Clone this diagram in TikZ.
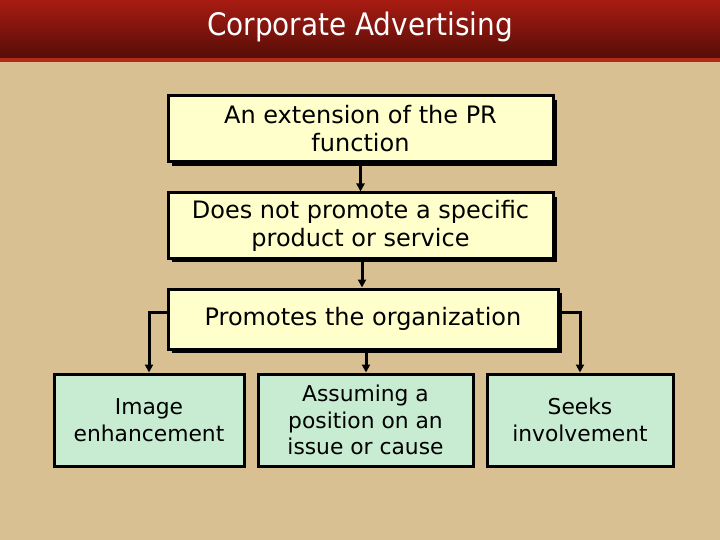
\documentclass[tikz,border=0pt]{standalone}
\usepackage{fontspec}
\setmainfont{DejaVu Sans}
\newfontfamily\titlefont{DejaVu Sans Condensed}
\usetikzlibrary{arrows.meta}
\definecolor{bgtan}{HTML}{D8C092}
\definecolor{barTop}{HTML}{A81C12}
\definecolor{barBot}{HTML}{560D08}
\definecolor{stripe}{HTML}{B42A18}
\definecolor{yel}{HTML}{FFFFCC}
\definecolor{grn}{HTML}{C8ECD2}
\tikzset{
  ybox/.style={draw=black, line width=3pt, fill=yel, align=center, font=\fontsize{24}{28}\selectfont, inner sep=0pt},
  gbox/.style={draw=black, line width=3pt, fill=grn, minimum height=92pt, align=center, font=\fontsize{21.8}{26.5}\selectfont, inner sep=0pt},
  shad/.style={fill=black},
  conn/.style={line width=3pt, -{Triangle[length=8pt,width=8pt]}},
}
\begin{document}
\begin{tikzpicture}[x=1pt,y=-1pt]
\useasboundingbox (0,0) rectangle (720,540);
\fill[bgtan] (0,0) rectangle (720,540);
\shade[top color=barTop, bottom color=barBot] (0,0) rectangle (720,58);
\fill[stripe] (0,58) rectangle (720,62);
\node[text=white, font=\titlefont\fontsize{31}{36}\selectfont] (title) at (360,27) {Corporate Advertising};
% shadows
\fill[shad] (172,100) rectangle (557,166);
\fill[shad] (172,197) rectangle (557,262);
\fill[shad] (172,293) rectangle (562,353);
% yellow boxes
\node[ybox, minimum width=385pt, minimum height=66pt] (b1) at (360.5,129) {An extension of the PR\\function};
\node[ybox, minimum width=385pt, minimum height=65pt] (b2) at (360.5,225.5) {Does not promote a specific\\product or service};
\node[ybox, minimum width=390pt, minimum height=60pt] (b3) at (363,319) {Promotes the organization};
% green boxes
\node[gbox, minimum width=190pt] (g1) at (149,420) {Image\\enhancement};
\node[gbox, minimum width=215pt] (g2) at (365.5,420) {Assuming a\\position on an\\issue or cause};
\node[gbox, minimum width=186pt] (g3) at (580,420) {Seeks\\involvement};
% connectors
\draw[conn] (b1.south) -- (b2.north);
\draw[conn] ([xshift=1.5pt]b2.south) -- ([xshift=1.5pt]b2.south |- b3.north);
\draw[conn] ([xshift=3pt]b3.south) -- ([xshift=3pt]b3.south |- g2.north);
\draw[conn] ([yshift=7pt]b3.west) -| (g1.north);
\draw[conn] ([yshift=7pt,xshift=2pt]b3.east) -| (g3.north);
\end{tikzpicture}
\end{document}
